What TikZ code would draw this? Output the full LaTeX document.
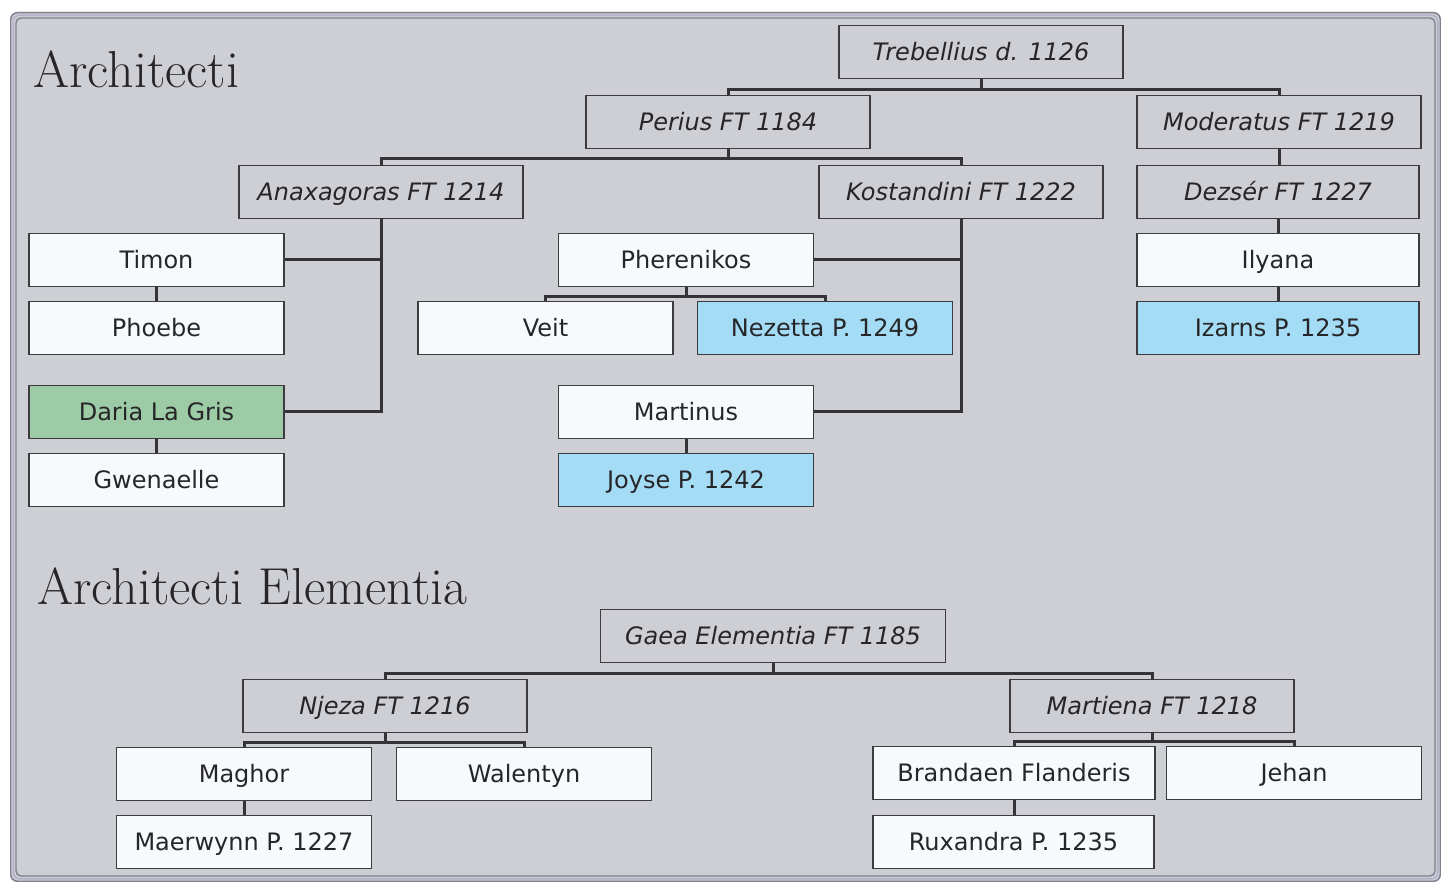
\documentclass[tikz,border=0pt]{standalone}
\usepackage{fontspec}
\newfontfamily\boxfont{DejaVu Sans}
\usetikzlibrary{calc}
\definecolor{panel}{RGB}{206,207,212}
\definecolor{rimdark}{RGB}{128,128,142}
\definecolor{rimlight}{RGB}{178,176,204}
\definecolor{boxline}{RGB}{60,60,64}
\definecolor{boxwhite}{RGB}{247,250,252}
\definecolor{boxgreen}{RGB}{156,203,166}
\definecolor{boxblue}{RGB}{164,220,246}
\definecolor{ink}{RGB}{38,38,40}
\definecolor{wire}{RGB}{52,52,56}
\tikzset{
  person/.style={draw=boxline, line width=1.3pt, inner sep=0pt,
    minimum height=53pt, text=ink, text height=17.5pt, text depth=0pt,
    font=\boxfont\fontsize{24}{24}\selectfont},
  ancestor/.style={person, minimum width=284pt, fill=panel,
    font=\boxfont\itshape\fontsize{24}{24}\selectfont},
  member/.style={person, minimum width=255pt, fill=boxwhite},
  greenbox/.style={member, fill=boxgreen},
  bluebox/.style={member, fill=boxblue},
  link/.style={draw=wire, line width=3pt, line join=miter},
  heading/.style={anchor=base west, inner sep=0pt, text=ink,
    font=\fontsize{52}{52}\selectfont}
}
\begin{document}
\begin{tikzpicture}[x=1pt,y=-1pt]
\useasboundingbox (0,0) rectangle (1441,882);
\fill[white] (0,0) rectangle (1441,882);
% framed panel
\fill[panel, rounded corners=7pt] (10,12) rectangle (1441,882);
\draw[rimdark, line width=1.4pt, rounded corners=7pt] (10.7,12.7) rectangle (1440.3,881.3);
\draw[rimlight, line width=1.6pt, rounded corners=6pt] (13.3,15.3) rectangle (1437.7,878.7);
\draw[rimdark, line width=1.4pt, rounded corners=5pt] (16,18) rectangle (1435,876);

% headings
\node[heading] (h1) at (33,88) {Architecti};
\node[heading] (h2) at (37,604) {Architecti Elementia};

% upper tree
\node[ancestor] (treb)  at (981,52)   {Trebellius d. 1126};
\node[ancestor] (perius) at (728,122) {Perius FT 1184};
\node[ancestor] (moder) at (1279,122) {Moderatus FT 1219};
\node[ancestor] (anax)  at (381,192)  {Anaxagoras FT 1214};
\node[ancestor] (kost)  at (961,192)  {Kostandini FT 1222};
\node[ancestor, minimum width=282pt] (dezser) at (1278,192) {Dezsér FT 1227};

\node[member]    (timon)  at (156.5,260) {Timon};
\node[member]    (phoebe) at (156.5,328) {Phoebe};
\node[greenbox]  (daria)  at (156.5,412) {Daria La Gris};
\node[member]    (gwen)   at (156.5,480) {Gwenaelle};

\node[member]    (pher)   at (686,260) {Pherenikos};
\node[member]    (veit)   at (545.5,328) {Veit};
\node[bluebox]   (nez)    at (825,328) {Nezetta P. 1249};
\node[member]    (mart)   at (686,412) {Martinus};
\node[bluebox]   (joyse)  at (686,480) {Joyse P. 1242};

\node[member, minimum width=282pt]  (ilyana) at (1278,260) {Ilyana};
\node[bluebox, minimum width=282pt] (izarns) at (1278,328) {Izarns P. 1235};

% lower tree
\node[ancestor, minimum width=345pt] (gaea) at (773,636) {Gaea Elementia FT 1185};
\node[ancestor] (njeza) at (385,706)  {Njeza FT 1216};
\node[ancestor] (mtna)  at (1152,706) {Martiena FT 1218};

\node[member] (maghor) at (244,774)  {Maghor};
\node[member] (walen)  at (524,774)  {Walentyn};
\node[member, minimum width=282pt] (brand) at (1014,773) {Brandaen Flanderis};
\node[member] (jehan)  at (1294,773) {Jehan};
\node[member] (maer)   at (244,842)  {Maerwynn P. 1227};
\node[member, minimum width=281pt] (rux) at (1013.5,842) {Ruxandra P. 1235};

% connectors, upper tree
\draw[link] (treb.south) -- ++(0,10) -| (perius.north);
\draw[link] (treb.south) -- ++(0,10) -| (moder.north);
\draw[link] (perius.south) -- ++(0,9) -| (anax.north);
\draw[link] (perius.south) -- ++(0,9) -| (kost.north);
\draw[link] (moder.south) -- (moder.south |- dezser.north);
\draw[link] (dezser.south) -- (ilyana.north);
\draw[link] (ilyana.south) -- (izarns.north);
\draw[link] (anax.south) |- (timon.east);
\draw[link] (anax.south) |- (daria.east);
\draw[link] (timon.south) -- (phoebe.north);
\draw[link] (daria.south) -- (gwen.north);
\draw[link] (kost.south) |- (pher.east);
\draw[link] (kost.south) |- (mart.east);
\draw[link] (pher.south) -- ++(0,9) -| (veit.north);
\draw[link] (pher.south) -- ++(0,9) -| (nez.north);
\draw[link] (mart.south) -- (joyse.north);

% connectors, lower tree
\draw[link] (gaea.south) -- ++(0,10) -| (njeza.north);
\draw[link] (gaea.south) -- ++(0,10) -| (mtna.north);
\draw[link] (njeza.south) -- ++(0,9) -| (maghor.north);
\draw[link] (njeza.south) -- ++(0,9) -| (walen.north);
\draw[link] (mtna.south) -- ++(0,8) -| (brand.north);
\draw[link] (mtna.south) -- ++(0,8) -| (jehan.north);
\draw[link] (maghor.south) -- (maer.north);
\draw[link] (brand.south) -- (brand.south |- rux.north);
\end{tikzpicture}
\end{document}
